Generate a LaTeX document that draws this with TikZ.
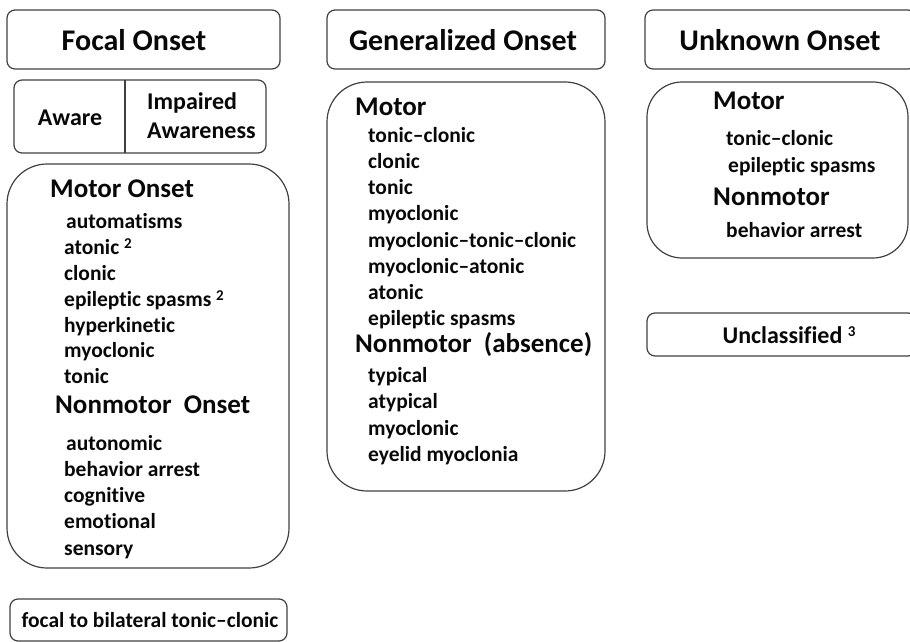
\documentclass[tikz,border=0pt]{standalone}
\usepackage{fontspec}
\setmainfont{Carlito}[Ligatures=NoCommon]
\usepackage{tikz}
\definecolor{boxgray}{gray}{0.25}
\definecolor{txtgray}{gray}{0.03}
\tikzset{
  box/.style={draw=boxgray, line width=1.2pt, rounded corners=8pt},
  bigbox/.style={draw=boxgray, line width=1.2pt, rounded corners=40pt},
  head/.style={inner sep=0pt, text=txtgray, font=\fontsize{30}{32}\selectfont\bfseries},
  sub/.style={anchor=base west, inner sep=0pt, text=txtgray, font=\fontsize{27}{29}\selectfont\bfseries},
  item/.style={anchor=base west, inner sep=0pt, text=txtgray, font=\fontsize{21.5}{23}\selectfont\bfseries},
  aw/.style={inner sep=0pt, text=txtgray, font=\fontsize{24}{26}\selectfont\bfseries},
}
\newcommand{\supnum}[1]{\raisebox{0.55ex}{\fontsize{15}{16}\selectfont #1}}

\begin{document}
\begin{tikzpicture}[x=1pt,y=-1pt]
    \useasboundingbox (0,0) rectangle (910,642);
    \draw[box] (7,10) rectangle (280,69);
    \draw[box] (327,10) rectangle (605,69);
    \draw[box] (645,10) rectangle (916,69);
    \node[head] (focal) at (134,40) {Focal Onset};
    \node[head] (gen) at (463,40) {Generalized Onset};
    \node[head] (unk) at (780,40) {Unknown Onset};
    \draw[box] (14,80) rectangle (266,153);
    \draw[draw=boxgray, line width=1.2pt] (125,80) -- (125,153);
    \node[aw] (aware) at (70,118) {Aware};
    \node[aw, anchor=base west] (impaired) at (147,110) {Impaired};
    \node[aw, anchor=base west] (awareness) at (147,138) {Awareness};
    \draw[bigbox] (7,164) rectangle (289,568);
    \node[sub] (fmotor) at (50,197) {Motor Onset};
    \node[item] (f1) at (66,228) {automatisms};
    \node[item] (f2) at (64,254) {atonic \supnum{2}};
    \node[item] (f3) at (64,280) {clonic};
    \node[item] (f4) at (64,306) {epileptic spasms \supnum{2}};
    \node[item] (f5) at (64,332) {hyperkinetic};
    \node[item] (f6) at (64,357) {myoclonic};
    \node[item] (f7) at (64,383) {tonic};
    \node[sub] (fnon) at (55,413) {Nonmotor\ \ Onset};
    \node[item] (f8) at (66,450) {autonomic};
    \node[item] (f9) at (64,476) {behavior arrest};
    \node[item] (f10) at (64,502) {cognitive};
    \node[item] (f11) at (64,528) {emotional};
    \node[item] (f12) at (64,555) {sensory};
    \draw[box] (10,599) rectangle (287,641);
    \node[item, anchor=center] (bilat) at (150,620) {focal to bilateral tonic–clonic};
    \draw[bigbox] (327,82) rectangle (605,491);
    \node[sub] (gmotor) at (355,115) {Motor};
    \node[item] (g1) at (368,142) {tonic–clonic};
    \node[item] (g2) at (368,168) {clonic};
    \node[item] (g3) at (368,194) {tonic};
    \node[item] (g4) at (368,220) {myoclonic};
    \node[item] (g5) at (368,247) {myoclonic–tonic–clonic};
    \node[item] (g6) at (368,273) {myoclonic–atonic};
    \node[item] (g7) at (368,299) {atonic};
    \node[item] (g8) at (368,325) {epileptic spasms};
    \node[sub] (gnon) at (355,352) {Nonmotor\ \ (absence)};
    \node[item] (g9) at (368,382) {typical};
    \node[item] (g10) at (368,408) {atypical};
    \node[item] (g11) at (368,435) {myoclonic};
    \node[item] (g12) at (368,461) {eyelid myoclonia};
    \draw[bigbox, rounded corners=35pt] (647,82) rectangle (908,258);
    \node[sub] (umotor) at (713,110) {Motor};
    \node[item] (u1) at (726,145) {tonic–clonic};
    \node[item] (u2) at (728,172) {epileptic spasms};
    \node[sub] (unon) at (713,205) {Nonmotor};
    \node[item] (u3) at (726,237) {behavior arrest};
    \draw[box] (647,313) rectangle (916,356);
    \node[aw] (uncl) at (789,335) {Unclassified \supnum{3}};
\end{tikzpicture}
\end{document}
